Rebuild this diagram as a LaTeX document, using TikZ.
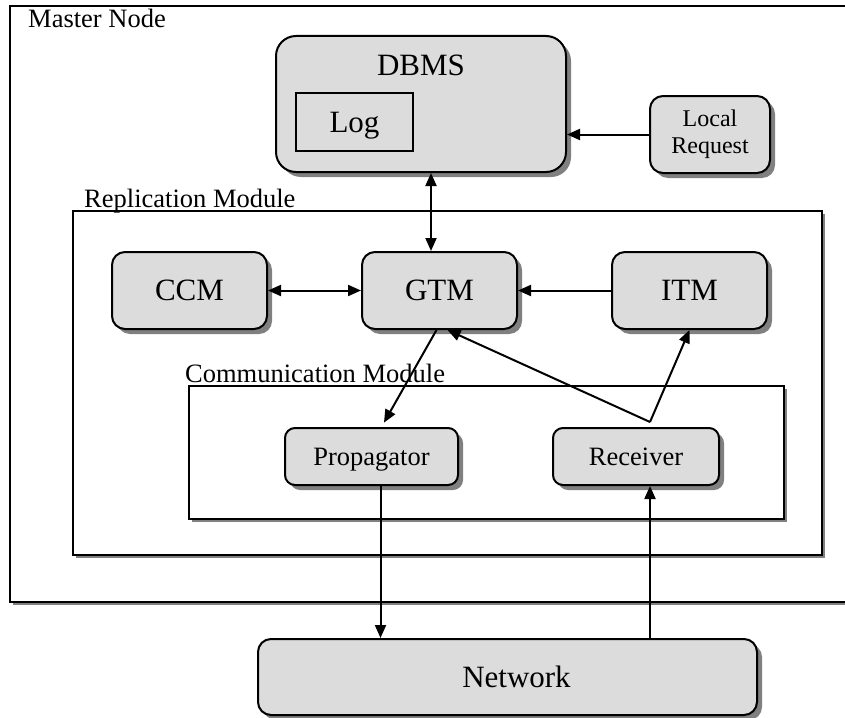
\documentclass[tikz,border=0pt]{standalone}
\usepackage{fontspec}
\setmainfont{Liberation Serif}
\usetikzlibrary{arrows.meta,shadows}

\definecolor{boxfill}{HTML}{DCDCDC}
\definecolor{shade}{HTML}{808080}

\tikzset{
  box/.style={draw, line width=2pt, fill=boxfill, rounded corners=13pt,
    drop shadow={shadow xshift=5pt, shadow yshift=-5pt, fill=shade, opacity=1},
    inner sep=0pt, align=center},
  frame/.style={draw, line width=2pt, fill=white,
    drop shadow={shadow xshift=2.5pt, shadow yshift=-2.5pt, fill=shade, opacity=1}},
  arr/.style={line width=2pt, -{Triangle[length=13pt,width=11pt]}},
  darr/.style={line width=2pt, {Triangle[length=13pt,width=11pt]}-{Triangle[length=13pt,width=11pt]}},
  big/.style={font=\fontsize{31}{33}\selectfont, text depth=0pt},
  mid/.style={font=\fontsize{26.5}{28}\selectfont, text depth=0pt},
  lbl/.style={font=\fontsize{26.5}{28}\selectfont, anchor=base west, inner sep=0pt},
  small/.style={font=\fontsize{24}{27}\selectfont},
}

\begin{document}
\begin{tikzpicture}[x=1pt,y=-1pt]
  \useasboundingbox (0,0) rectangle (845,717);

  % nested modules
  \draw[frame] (10,6) rectangle (880,602);
  \node[lbl] (mastertxt) at (28,28) {Master Node};
  \draw[frame] (73,211) rectangle (822,555);
  \node[lbl] (repltxt) at (84,207) {Replication Module};
  \draw[frame] (189,386) rectangle (784,519);
  \node[lbl] (commtxt) at (185,382) {Communication Module};

  % database and its log
  \node[box, rounded corners=20pt, minimum width=290pt, minimum height=136pt] (dbms) at (421,104) {};
  \node[big, anchor=base, inner sep=0pt] (dbmstxt) at (421,75) {DBMS};
  \node[draw, line width=1.6pt, fill=boxfill, minimum width=117pt, minimum height=58pt, big] (log) at (354.5,122) {Log};
  \node[box, small, minimum width=120pt, minimum height=77pt] (lreq) at (710,134.5) {Local\\Request};

  % replication module
  \node[box, big, minimum width=155pt, minimum height=77pt] (ccm) at (189.5,290.5) {CCM};
  \node[box, big, minimum width=155pt, minimum height=77pt] (gtm) at (439.5,290.5) {GTM};
  \node[box, big, minimum width=155pt, minimum height=77pt] (itm) at (689.5,290.5) {ITM};

  % communication module
  \node[box, mid, rounded corners=10pt, minimum width=173pt, minimum height=57pt] (prop) at (371.5,456.5) {Propagator};
  \node[box, mid, rounded corners=10pt, minimum width=166pt, minimum height=57pt] (recv) at (636,456.5) {Receiver};

  \node[box, big, minimum width=499pt, minimum height=76pt] (net) at (507.5,677) {\hspace*{18pt}Network};

  % connectors
  \draw[arr] (lreq.west) -- (lreq.west -| dbms.east);
  \draw[darr] ([xshift=-8.5pt]gtm.north) -- ([xshift=-8.5pt]gtm.north |- dbms.south);
  \draw[darr] (ccm) -- (gtm);
  \draw[arr] (itm) -- (gtm);
  \draw[arr, shorten >=5pt] ([xshift=-3pt]gtm.south) -- ([xshift=10pt]prop.north);
  \coordinate (rj) at ([xshift=14pt,yshift=5pt]recv.north);
  \draw[arr] (rj) -- ([xshift=8pt]gtm.south);
  \draw[arr] (rj) -- (itm.south);
  \draw[arr] ([xshift=9pt]prop.south) -- ([xshift=9pt]prop.south |- net.north);
  \draw[arr] (rj |- net.north) -- (rj |- recv.south);
\end{tikzpicture}
\end{document}
